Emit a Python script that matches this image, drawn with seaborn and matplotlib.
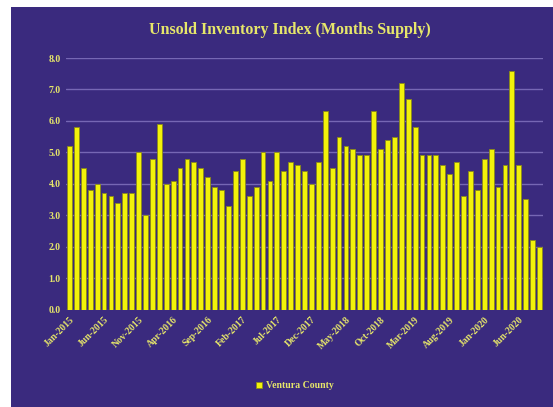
import matplotlib
matplotlib.use("Agg")
import matplotlib.pyplot as plt
import seaborn as sns
import pandas as pd
import numpy as np
from matplotlib.patches import Rectangle

months = pd.date_range("2015-01-01", periods=69, freq="MS").strftime("%b-%Y").tolist()
values = [5.2, 5.8, 4.5, 3.8, 4.0, 3.7, 3.6, 3.4, 3.7, 3.7, 5.0, 3.0,
          4.8, 5.9, 4.0, 4.1, 4.5, 4.8, 4.7, 4.5, 4.2, 3.9, 3.8, 3.3,
          4.4, 4.8, 3.6, 3.9, 5.0, 4.1, 5.0, 4.4, 4.7, 4.6, 4.4, 4.0,
          4.7, 6.3, 4.5, 5.5, 5.2, 5.1, 4.9, 4.9, 6.3, 5.1, 5.4, 5.5,
          7.2, 6.7, 5.8, 4.9, 4.9, 4.9, 4.6, 4.3, 4.7, 3.6, 4.4, 3.8,
          4.8, 5.1, 3.9, 4.6, 7.6, 4.6, 3.5, 2.2, 2.0]
series_name = "Ventura County"
title = "Unsold Inventory Index (Months Supply)"
yticks = [0, 1, 2, 3, 4, 5, 6, 7, 8]

df = pd.DataFrame({"Month": months, "Value": values, "Series": series_name})

BG = "#3a2a7e"
YEL = "#f2f20a"
TXT = "#e6e66a"
GRID = "#7667b4"

sns.set_theme(style="white")
plt.rcParams["font.family"] = ["Liberation Serif", "DejaVu Serif"]

fig = plt.figure(figsize=(5.53, 4.07), dpi=100)
fig.patch.set_facecolor("white")
fig.add_artist(Rectangle((11 / 553, 0), 1.0, 1 - 7 / 407,
                         transform=fig.transFigure, facecolor=BG,
                         edgecolor="none", zorder=0))

ax = fig.add_axes([66 / 553, 1 - 309.5 / 407, (543 - 66) / 553, (309.5 - 58) / 407])
ax.set_facecolor(BG)
ax.patch.set_alpha(0)

sns.barplot(data=df, x="Month", y="Value", hue="Series", palette=[YEL],
            width=0.7, edgecolor="#8a8a1a", linewidth=0.6, ax=ax, zorder=3,
            saturation=1)

ax.set_ylim(0, 8.0)
ax.set_xlim(-0.5, len(months) - 0.5)
ax.set_yticks(yticks)
ax.set_yticklabels([f"{v:.1f}" for v in yticks], color=TXT, fontsize=7, fontweight="bold")
tick_idx = list(range(0, len(months), 5))
ax.set_xticks(tick_idx)
ax.set_xticklabels([months[i] for i in tick_idx], rotation=45, ha="right",
                   rotation_mode="anchor", color=TXT, fontsize=7, fontweight="bold")
ax.tick_params(axis="both", length=0, pad=4)
ax.yaxis.grid(True, color=GRID, lw=1)
ax.set_axisbelow(True)
for s in ax.spines.values():
    s.set_visible(False)
ax.set_xlabel("")
ax.set_ylabel("")

leg = ax.legend(loc="upper center", bbox_to_anchor=(0.5 - 0.02, -0.25), frameon=False,
                fontsize=7, handlelength=0.6, handleheight=0.6, handletextpad=0.4)
for t in leg.get_texts():
    t.set_color(TXT)
    t.set_fontweight("bold")

fig.text(290 / 553, 1 - 30 / 407, title, ha="center", va="center", color=TXT,
         fontsize=11.5, fontweight="bold")

fig.savefig("out.png", dpi=100, facecolor=fig.get_facecolor())
